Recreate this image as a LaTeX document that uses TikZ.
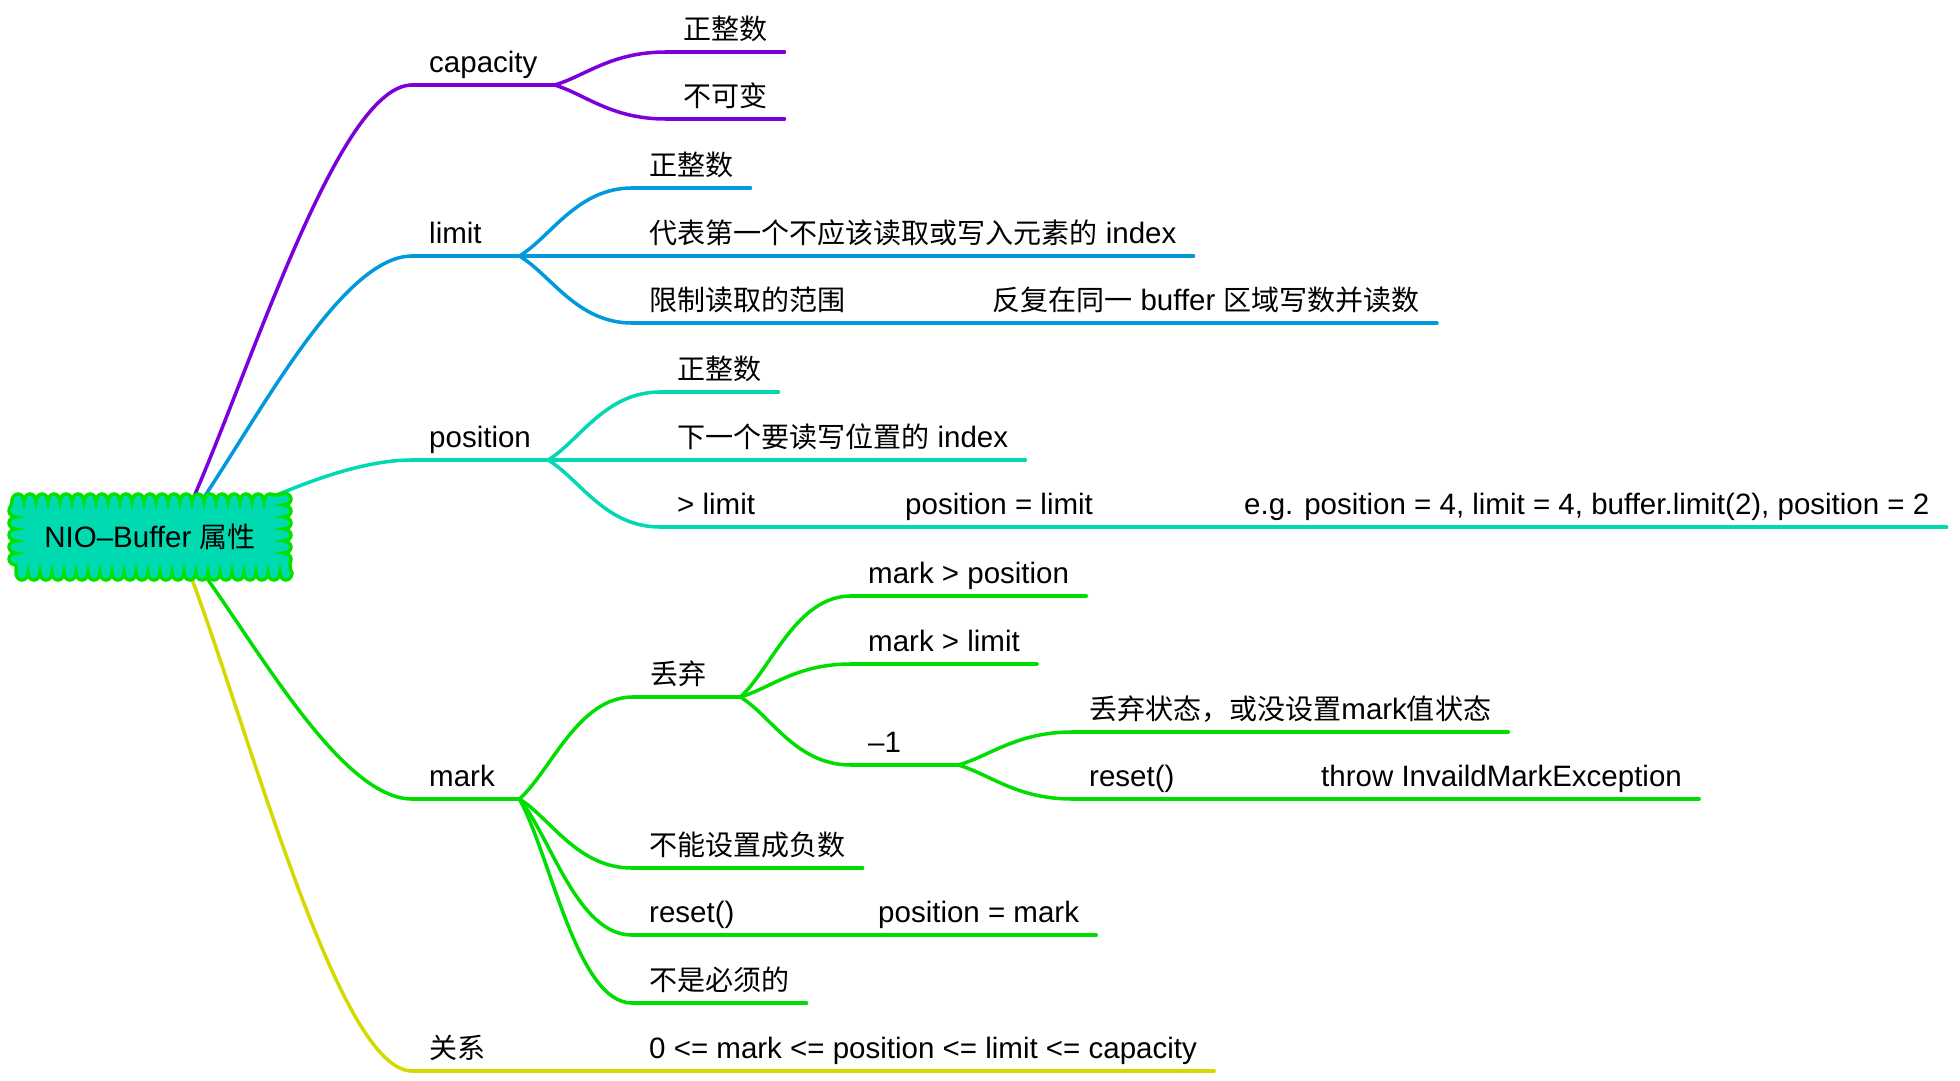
\documentclass[tikz,border=0pt]{standalone}
\usepackage{fontspec}
\setmainfont{Liberation Sans}
\newfontfamily\cjk{Noto Sans CJK SC}[Scale=0.95]
\usetikzlibrary{calc}
\usetikzlibrary{backgrounds}
\usetikzlibrary{decorations.pathmorphing}

\definecolor{capColor}{RGB}{123,0,217}
\definecolor{limColor}{RGB}{0,153,221}
\definecolor{posColor}{RGB}{0,217,178}
\definecolor{markColor}{RGB}{0,221,0}
\definecolor{relColor}{RGB}{212,217,0}
\definecolor{rootFill}{RGB}{0,218,176}
\definecolor{rootBorder}{RGB}{0,225,0}

\tikzstyle{topic}=[anchor=south west, inner xsep=17pt, inner ysep=0pt, text height=22pt, text depth=12.5pt, font=\fontsize{29.5}{35}\selectfont]
\tikzstyle{shortTopic}=[topic, text width=73pt]
\tikzstyle{rootCloud}=[draw=rootBorder, fill=rootFill, line width=3.5pt, minimum width=268pt, minimum height=72pt, decorate, decoration={bumps, segment length=24pt, amplitude=-7pt}, font=\fontsize{29.5}{35}\selectfont]
\tikzstyle{wire}=[line width=3.5pt, line cap=round]
\tikzstyle{branch}=[to path={.. controls ($(\tikztostart)!0.28!(\tikztotarget)$) and ([xshift=-55pt]\tikztotarget) .. (\tikztotarget)}]
\tikzstyle{trunk}=[to path={.. controls ($(\tikztostart)!0.25!(\tikztotarget)$) and ([xshift=-80pt]\tikztotarget) .. (\tikztotarget)}]

\begin{document}
\begin{tikzpicture}[x=1pt, y=-1pt]
  \useasboundingbox (0,0) rectangle (1960,1080);

  % Nodes
  \node (root) at (150,537) [rootCloud] {NIO–Buffer {\cjk 属性}};

  \node (capacity) at (412,85) [topic] {capacity};
  \node (cap1) at (666,52) [topic] {{\cjk 正整数}};
  \node (cap2) at (666,119) [topic] {{\cjk 不可变}};

  \node (limit) at (412,256) [shortTopic] {limit};
  \node (lim1) at (632,188) [topic] {{\cjk 正整数}};
  \node (lim2) at (632,256) [topic] {{\cjk 代表第一个不应该读取或写入元素的} index};
  \node (lim3) at (632,323) [topic] {{\cjk 限制读取的范围}};
  \node (lim3a) at (975,323) [topic] {{\cjk 反复在同一} buffer {\cjk 区域写数并读数}};

  \node (position) at (412,460) [topic] {position};
  \node (pos1) at (660,392) [topic] {{\cjk 正整数}};
  \node (pos2) at (660,460) [topic] {{\cjk 下一个要读写位置的} index};
  \node (pos3) at (660,527) [topic] {> limit};
  \node (pos3a) at (888,527) [topic] {position = limit};
  \node (pos3b) at (1227,527) [topic] {e.g. position = 4, limit = 4, buffer.limit(2), position = 2};

  \node (mark) at (412,799) [shortTopic] {mark};
  \node (dis) at (633,697) [shortTopic] {{\cjk 丢弃}};
  \node (dis1) at (851,596) [topic] {mark > position};
  \node (dis2) at (851,664) [topic] {mark > limit};
  \node (dis3) at (851,765) [shortTopic] {–1};
  \node (dis3a) at (1072,732) [topic] {{\cjk 丢弃状态，或没设置}mark{\cjk 值状态}};
  \node (dis3b) at (1072,799) [topic] {reset()};
  \node (dis3c) at (1304,799) [topic] {throw InvaildMarkException};
  \node (neg) at (632,868) [topic] {{\cjk 不能设置成负数}};
  \node (rst) at (632,935) [topic] {reset()};
  \node (rsta) at (861,935) [topic] {position = mark};
  \node (opt) at (632,1003) [topic] {{\cjk 不是必须的}};

  \node (rel) at (412,1071) [shortTopic] {{\cjk 关系}};
  \node (rel1) at (632,1071) [topic] {0 <= mark <= position <= limit <= capacity};

  % Branches
  \begin{scope}[on background layer]
    \fill[white] (0,0) rectangle (1960,1080);

    \draw[wire, capColor] ([xshift=25pt]root.center) to[trunk] (capacity.south west);
    \draw[wire, limColor] ([xshift=25pt]root.center) to[trunk] (limit.south west);
    \draw[wire, posColor] ([xshift=25pt]root.center) to[trunk] (position.south west);
    \draw[wire, markColor] ([xshift=25pt]root.center) to[trunk] (mark.south west);
    \draw[wire, relColor] ([xshift=25pt]root.center) to[trunk] (rel.south west);

    \foreach \a/\b in {capacity/cap1, capacity/cap2}
      \draw[wire, capColor] (\a.south east) to[branch] (\b.south west);
    \foreach \n in {capacity, cap1, cap2}
      \draw[wire, capColor] (\n.south west) -- (\n.south east);

    \foreach \a/\b in {limit/lim1, limit/lim2, limit/lim3, lim3/lim3a}
      \draw[wire, limColor] (\a.south east) to[branch] (\b.south west);
    \foreach \n in {limit, lim1, lim2, lim3, lim3a}
      \draw[wire, limColor] (\n.south west) -- (\n.south east);

    \foreach \a/\b in {position/pos1, position/pos2, position/pos3, pos3/pos3a, pos3a/pos3b}
      \draw[wire, posColor] (\a.south east) to[branch] (\b.south west);
    \foreach \n in {position, pos1, pos2, pos3, pos3a, pos3b}
      \draw[wire, posColor] (\n.south west) -- (\n.south east);

    \foreach \a/\b in {mark/dis, dis/dis1, dis/dis2, dis/dis3, dis3/dis3a, dis3/dis3b, dis3b/dis3c, mark/neg, mark/rst, rst/rsta, mark/opt}
      \draw[wire, markColor] (\a.south east) to[branch] (\b.south west);
    \foreach \n in {mark, dis, dis1, dis2, dis3, dis3a, dis3b, dis3c, neg, rst, rsta, opt}
      \draw[wire, markColor] (\n.south west) -- (\n.south east);

    \draw[wire, relColor] (rel.south east) to[branch] (rel1.south west);
    \foreach \n in {rel, rel1}
      \draw[wire, relColor] (\n.south west) -- (\n.south east);
  \end{scope}

\end{tikzpicture}
\end{document}
